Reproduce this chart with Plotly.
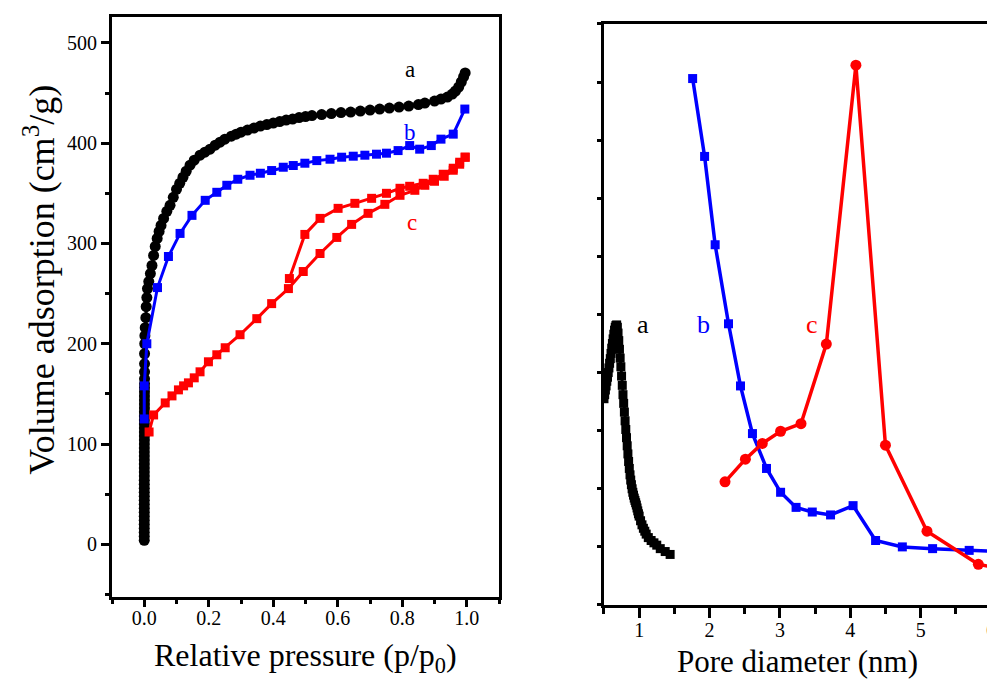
import plotly.graph_objects as go

# ---------------- Left panel: N2 isotherms ----------------
a_iso_x = [0.00001, 0.00002, 0.00003, 0.00004, 0.00005, 0.00006, 0.00007, 0.00008, 0.00009, 0.0001,
           0.00011, 0.00012, 0.00013, 0.00014, 0.00015, 0.00016, 0.00017, 0.00018, 0.00019, 0.0002,
           0.00022, 0.00024, 0.00026, 0.00028, 0.0003, 0.00032, 0.00034, 0.00036, 0.00038, 0.0004,
           0.00043, 0.00046, 0.0005, 0.00054, 0.00058, 0.00062, 0.00066, 0.0007, 0.00075, 0.0008,
           0.00085, 0.0009, 0.00095, 0.001, 0.0015, 0.002, 0.003, 0.005, 0.006, 0.008, 0.01, 0.014,
           0.019, 0.024, 0.029, 0.034, 0.04, 0.046, 0.052, 0.06, 0.07, 0.08, 0.09, 0.10, 0.11, 0.12,
           0.13, 0.142, 0.155, 0.173, 0.188, 0.204, 0.22, 0.235, 0.25, 0.27, 0.285, 0.30, 0.32, 0.34,
           0.36, 0.38, 0.40, 0.42, 0.44, 0.46, 0.48, 0.50, 0.52, 0.55, 0.58, 0.61, 0.64, 0.67, 0.70,
           0.73, 0.76, 0.79, 0.82, 0.85, 0.87, 0.90, 0.92, 0.94, 0.955, 0.965, 0.975, 0.983, 0.99, 0.995]
a_iso_y = [4, 8, 12, 16, 20, 24, 28, 32, 36, 40,
           44, 48, 52, 56, 60, 64, 68, 72, 76, 80,
           84, 88, 92, 96, 100, 104, 108, 112, 116, 120,
           124, 128, 132, 136, 140, 144, 148, 152, 156, 160,
           165, 172, 180, 190, 200, 208, 216, 226, 237, 246, 255, 262,
           270, 278, 288, 297, 305, 312, 318, 325, 332, 338, 346, 354, 360, 366,
           372, 378, 383, 388, 391, 394, 398, 401, 404, 407, 409, 411, 413, 415,
           417, 418.5, 420, 421.5, 423, 424, 425.5, 426.5, 427.5, 428.5, 429.5, 430.5, 431, 432, 433,
           434, 435, 436, 437, 438.5, 440, 442, 444, 446, 449, 452, 456, 461, 466, 470]

b_iso_x = [0.0, 0.0, 0.008, 0.041, 0.075, 0.111, 0.148, 0.189, 0.225, 0.256, 0.29, 0.328,
           0.36, 0.395, 0.431, 0.462, 0.498, 0.535, 0.576, 0.612, 0.648, 0.684, 0.72, 0.751,
           0.787, 0.823, 0.854, 0.89, 0.92, 0.958, 0.994]
b_iso_y = [125, 158, 200, 256, 287, 310, 328, 343, 351, 358, 364, 368,
           370, 372.7, 376, 377.7, 380, 382.6, 384, 386, 387, 388, 389, 390,
           392.6, 397.6, 394, 397.6, 404, 409, 434]

c_ads_x = [0.015, 0.029, 0.065, 0.086, 0.106, 0.122, 0.137, 0.155, 0.173, 0.199, 0.225, 0.251,
           0.297, 0.349, 0.395, 0.447, 0.493, 0.545, 0.597, 0.643, 0.694, 0.746, 0.793,
           0.839, 0.87, 0.90, 0.93, 0.958, 0.978, 0.995]
c_ads_y = [112, 129, 141, 148, 154, 158, 161, 166, 172, 182, 189, 196,
           209, 225, 240, 255, 272, 290, 306, 319, 330, 339, 348,
           353, 358, 362, 367, 373, 379, 386]
c_des_x = [0.995, 0.978, 0.958, 0.927, 0.896, 0.865, 0.823, 0.793, 0.751, 0.705, 0.653,
           0.601, 0.545, 0.498, 0.45]
c_des_y = [386, 381, 375, 369, 364, 360, 357, 355, 350, 345, 340,
           335, 325, 309, 265]

# ---------------- Right panel: pore size distributions ----------------
a_psd_x = [0.50, 0.51, 0.52, 0.53, 0.54, 0.55, 0.56, 0.57, 0.58, 0.59, 0.60, 0.61, 0.62, 0.63,
           0.64, 0.65, 0.66, 0.67, 0.68, 0.69, 0.70, 0.71, 0.72, 0.73, 0.74, 0.75, 0.76, 0.77,
           0.78, 0.79, 0.80, 0.81, 0.82, 0.83, 0.84, 0.85, 0.86, 0.87, 0.88, 0.89, 0.90, 0.91,
           0.92, 0.93, 0.94, 0.95, 0.96, 0.97, 0.98, 0.99, 1.00, 1.02, 1.04, 1.06, 1.08, 1.10,
           1.13, 1.17, 1.21, 1.25, 1.30, 1.37, 1.44]
a_psd_y = [3.55, 3.62, 3.7, 3.77, 3.85, 3.92, 4.0, 4.08, 4.16, 4.24, 4.33, 4.42, 4.5, 4.58,
           4.66, 4.73, 4.78, 4.81, 4.82, 4.78, 4.68, 4.55, 4.4, 4.25, 4.1, 3.94, 3.78, 3.62,
           3.47, 3.32, 3.17, 3.02, 2.88, 2.74, 2.6, 2.47, 2.35, 2.24, 2.15, 2.07, 2.0, 1.94,
           1.89, 1.84, 1.8, 1.76, 1.72, 1.67, 1.62, 1.57, 1.53, 1.45, 1.38, 1.32, 1.27, 1.22,
           1.16, 1.11, 1.07, 1.03, 0.97, 0.92, 0.87]

b_psd_x = [1.76, 1.93, 2.08, 2.27, 2.44, 2.61, 2.81, 3.01, 3.23, 3.46, 3.72, 4.04,
           4.36, 4.74, 5.17, 5.69, 6.3]
b_psd_y = [9.06, 7.72, 6.2, 4.84, 3.77, 2.95, 2.35, 1.94, 1.68, 1.6, 1.55, 1.71,
           1.11, 1.0, 0.97, 0.94, 0.91]

c_psd_x = [2.22, 2.51, 2.75, 3.01, 3.30, 3.66, 4.08, 4.5, 5.09, 5.82, 6.5]
c_psd_y = [2.12, 2.51, 2.78, 2.99, 3.12, 4.49, 9.29, 2.75, 1.27, 0.70, 0.55]

left_xticks = [0.0, 0.2, 0.4, 0.6, 0.8, 1.0]
left_xticktext = ["0.0", "0.2", "0.4", "0.6", "0.8", "1.0"]
left_yticks = [0, 100, 200, 300, 400, 500]
right_xticks = [1, 2, 3, 4, 5, 6]

left_xtitle = "Relative pressure (p/p<sub>0</sub>)"
left_ytitle = "Volume adsorption (cm<sup>3</sup>/g)"
right_xtitle = "Pore diameter (nm)"

BLACK = "#000000"
BLUE = "#0000FF"
RED = "#FF0000"
FONT = "Liberation Serif"

fig = go.Figure()

fig.add_trace(go.Scatter(x=a_iso_x, y=a_iso_y, mode="lines+markers", xaxis="x", yaxis="y",
                         line=dict(color=BLACK, width=3),
                         marker=dict(symbol="circle", size=11, color=BLACK), name="a"))
fig.add_trace(go.Scatter(x=b_iso_x, y=b_iso_y, mode="lines+markers", xaxis="x", yaxis="y",
                         line=dict(color=BLUE, width=3),
                         marker=dict(symbol="square", size=9, color=BLUE), name="b"))
fig.add_trace(go.Scatter(x=c_ads_x, y=c_ads_y, mode="lines+markers", xaxis="x", yaxis="y",
                         line=dict(color=RED, width=3),
                         marker=dict(symbol="square", size=9, color=RED), name="c"))
fig.add_trace(go.Scatter(x=c_des_x, y=c_des_y, mode="lines+markers", xaxis="x", yaxis="y",
                         line=dict(color=RED, width=3),
                         marker=dict(symbol="square", size=9, color=RED), name="c desorption"))

fig.add_trace(go.Scatter(x=a_psd_x, y=a_psd_y, mode="lines+markers", xaxis="x2", yaxis="y2",
                         line=dict(color=BLACK, width=3),
                         marker=dict(symbol="square", size=9, color=BLACK), name="a PSD"))
fig.add_trace(go.Scatter(x=b_psd_x, y=b_psd_y, mode="lines+markers", xaxis="x2", yaxis="y2",
                         line=dict(color=BLUE, width=3.5),
                         marker=dict(symbol="square", size=9, color=BLUE), name="b PSD"))
fig.add_trace(go.Scatter(x=c_psd_x, y=c_psd_y, mode="lines+markers", xaxis="x2", yaxis="y2",
                         line=dict(color=RED, width=3.5),
                         marker=dict(symbol="circle", size=11, color=RED), name="c PSD"))

axis_common = dict(showgrid=False, zeroline=False, showline=True, linecolor=BLACK, linewidth=3,
                   mirror=True, ticks="outside", tickcolor=BLACK, tickwidth=3,
                   tickfont=dict(family=FONT, size=20, color=BLACK))

# The page body adds an 8px offset, so the margins are shifted by -8 px to compensate.
fig.update_layout(
    width=995, height=679,
    paper_bgcolor="white", plot_bgcolor="white",
    showlegend=False,
    margin=dict(l=104, r=12, t=6, b=82),
    font=dict(family=FONT, color=BLACK),
    xaxis=dict(domain=[0.0, 0.4403], range=[-0.1, 1.1], anchor="y",
               tickvals=left_xticks, ticktext=left_xticktext, ticklen=7, ticklabelstandoff=-6,
               minor=dict(dtick=0.1, ticks="outside", ticklen=4, tickwidth=3, tickcolor=BLACK),
               **axis_common),
    yaxis=dict(domain=[0.0135, 1.0], range=[-52.6, 525.8], anchor="x",
               tickvals=left_yticks, ticklen=8,
               minor=dict(dtick=50, ticks="outside", ticklen=4, tickwidth=3, tickcolor=BLACK),
               **axis_common),
    xaxis2=dict(domain=[0.5597, 1.0], range=[0.5, 6.0], anchor="y2",
                tickvals=right_xticks, ticklen=10, ticklabelstandoff=-5,
                minor=dict(dtick=0.5, ticks="outside", ticklen=6, tickwidth=3, tickcolor=BLACK),
                **axis_common),
    yaxis2=dict(domain=[0.0, 0.9882], range=[0, 10], anchor="x2",
                dtick=1, ticklen=4, showticklabels=False,
                **axis_common),
    annotations=[
        # axis titles
        dict(x=0.2201, y=-0.0508, xref="paper", yref="paper", text=left_xtitle,
             showarrow=False, xanchor="center", yanchor="top",
             font=dict(family=FONT, size=32, color=BLACK)),
        dict(x=0.7798, y=-0.0626, xref="paper", yref="paper", text=right_xtitle,
             showarrow=False, xanchor="center", yanchor="top",
             font=dict(family=FONT, size=31, color=BLACK)),
        dict(x=-0.0819, y=0.5533, xref="paper", yref="paper", text=left_ytitle,
             showarrow=False, xanchor="center", yanchor="middle", textangle=-90,
             font=dict(family=FONT, size=36, color=BLACK)),
        # curve labels
        dict(x=0.824, y=473, xref="x", yref="y", text="a", showarrow=False,
             font=dict(family=FONT, size=23, color=BLACK)),
        dict(x=0.824, y=411, xref="x", yref="y", text="b", showarrow=False,
             font=dict(family=FONT, size=23, color=BLUE)),
        dict(x=0.829, y=321, xref="x", yref="y", text="c", showarrow=False,
             font=dict(family=FONT, size=23, color=RED)),
        dict(x=1.06, y=4.83, xref="x2", yref="y2", text="a", showarrow=False,
             font=dict(family=FONT, size=26, color=BLACK)),
        dict(x=1.91, y=4.83, xref="x2", yref="y2", text="b", showarrow=False,
             font=dict(family=FONT, size=26, color=BLUE)),
        dict(x=3.46, y=4.83, xref="x2", yref="y2", text="c", showarrow=False,
             font=dict(family=FONT, size=26, color=RED)),
    ],
)

fig.write_html("out.html")
